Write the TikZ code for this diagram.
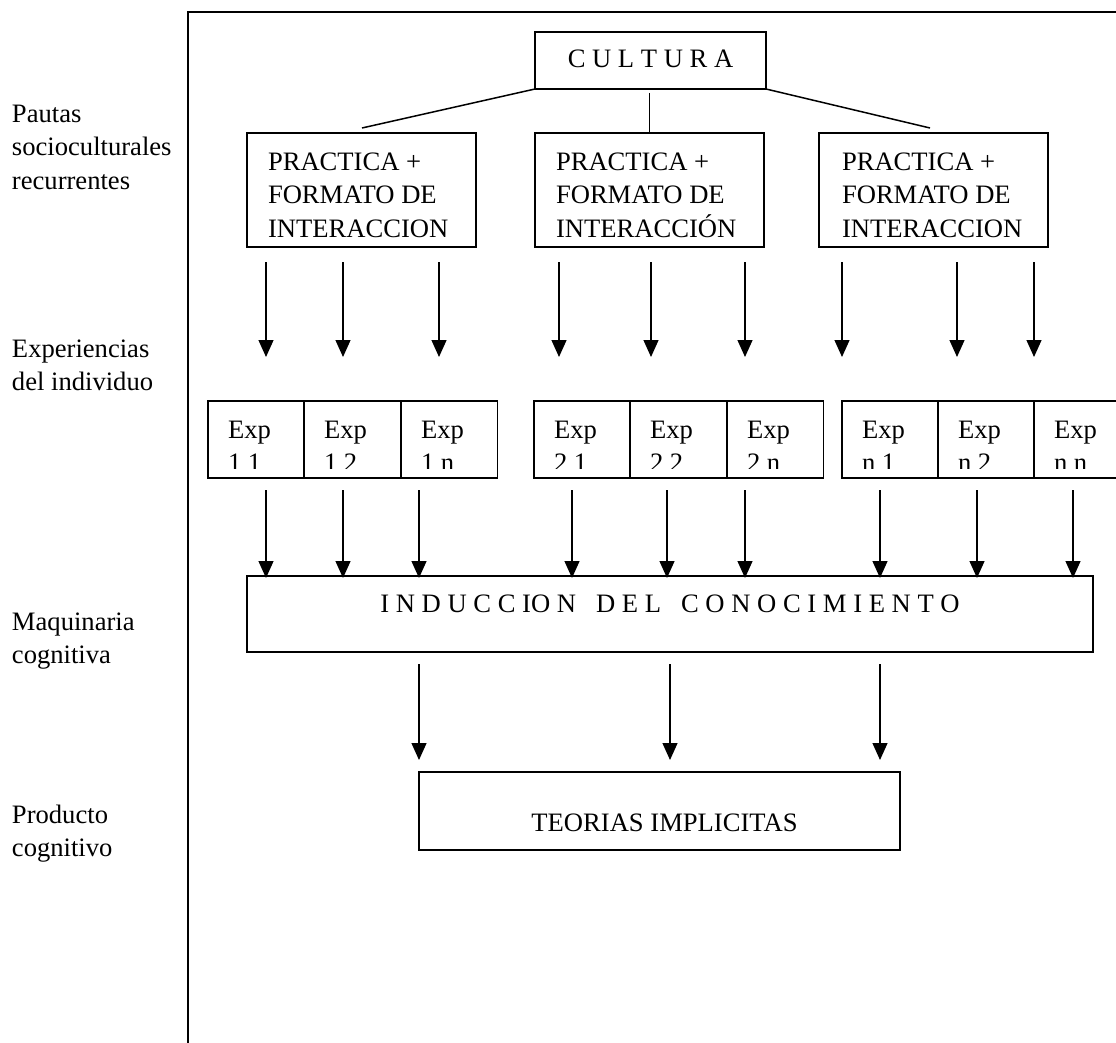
\documentclass[tikz,border=0pt]{standalone}
\usepackage{fontspec}
\setmainfont{Liberation Serif}
\usetikzlibrary{arrows.meta,calc}
\begin{document}
\begin{tikzpicture}[x=1pt,y=-1pt,
  every node/.style={font=\fontsize{26.6}{33.5}\selectfont, inner sep=0pt, outer sep=0pt},
  bx/.style={draw, line width=1.6pt, anchor=north west},
  pbox/.style={bx, minimum width=229pt, minimum height=114pt},
  ebox/.style={bx, minimum width=96.5pt, minimum height=77pt},
  txt/.style={align=left, anchor=north west},
  lbl/.style={align=left, anchor=north west},
  arr/.style={-{Triangle[length=17pt,width=15pt]}, line width=1.3pt},
  conn/.style={line width=1.5pt}]
\useasboundingbox (0,0) rectangle (1116,1043);
% frame
\coordinate (fbl) at (188,1045);
\coordinate (ftl) at (188,12);
\coordinate (ftr) at (1118,12);
\draw[line width=1.8pt] (fbl) -- (ftl) -- (ftr);

% left labels
\node[lbl] (l1) at (12,104.6) {Pautas\\socioculturales\\recurrentes};
\node[lbl] (l2) at (12,339.6) {Experiencias\\del individuo};
\node[lbl] (l3) at (12,612.6) {Maquinaria\\cognitiva};
\node[lbl] (l4) at (12,805) {Producto\\cognitivo};

% cultura
\node[bx, minimum width=231pt, minimum height=57pt] (cul) at (535,32) {};
\node[anchor=base] (cult) at ($(cul.north)+(0,36)$) {C U L T U R A};

% practica boxes
\node[pbox] (p1) at (247,133) {};
\node[pbox] (p2) at (535,133) {};
\node[pbox] (p3) at (819,133) {};
\node[txt] (p1t) at ($(p1.north west)+(21,19.6)$) {PRACTICA +\\FORMATO DE\\INTERACCION};
\node[txt] (p2t) at ($(p2.north west)+(21,19.6)$) {PRACTICA +\\FORMATO DE\\INTERACCIÓN};
\node[txt] (p3t) at ($(p3.north west)+(23,19.6)$) {PRACTICA +\\FORMATO DE\\INTERACCION};

% connectors from cultura
\coordinate (c1e) at (362,128);
\coordinate (c3e) at (930,128);
\draw[conn] (cul.south west) -- (c1e);
\draw[conn] ($(cul.south)+(-1,4)$) -- ($(cul.south)+(-1,44)$);
\draw[conn] (cul.south east) -- (c3e);

% arrows row 1
\foreach \x [count=\i] in {266,343,439,559,651,745,842,957,1034}{
  \coordinate (ra\i) at (\x,262);
  \coordinate (rb\i) at (\x,357);
  \draw[arr] (ra\i) -- (rb\i);
}

% exp boxes
\foreach \x/\n in {208/e11,304/e12,401/e1n,534/e21,630/e22,727/e2n,842/en1,938/en2,1034/enn}{
  \node[ebox] (\n) at (\x,401) {};
}
\begin{scope}
\clip (200,401) rectangle (1116,468);
\foreach \n/\t in {e11/1 1,e12/1 2,e1n/1 n,e21/2 1,e22/2 2,e2n/2 n,en1/n 1,en2/n 2,enn/n n}{
  \node[txt] (\n t) at ($(\n.north west)+(20,19.6)$) {Exp\\\t};
}
\end{scope}

% arrows row 2
\foreach \x [count=\i] in {266,343,419,572,667,745,880,977,1073}{
  \coordinate (sa\i) at (\x,490);
  \coordinate (sb\i) at (\x,578);
  \draw[arr] (sa\i) -- (sb\i);
}

% induccion
\node[bx, minimum width=846pt, minimum height=76pt] (ind) at (247,576) {};
\node[anchor=base] (indt) at ($(ind.north)+(0,36)$)
  {I N D U C C IO N\hspace{20pt}D E L\hspace{20pt}C O N O C I M I E N T O};

% arrows row 3
\foreach \x [count=\i] in {419,670,880}{
  \coordinate (ta\i) at (\x,664);
  \coordinate (tb\i) at (\x,760);
  \draw[arr] (ta\i) -- (tb\i);
}

% teorias
\node[bx, minimum width=481pt, minimum height=78pt] (teo) at (419,772) {};
\node[anchor=base] (teot) at ($(teo.north)+(5,59)$) {TEORIAS IMPLICITAS};
\end{tikzpicture}
\end{document}
